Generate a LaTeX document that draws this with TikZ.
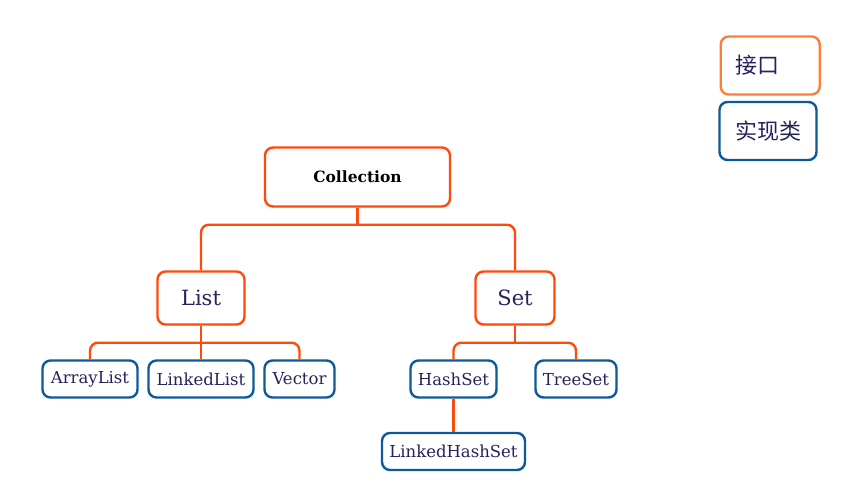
\documentclass[tikz,border=0pt]{standalone}
\usepackage{fontspec}
\setmainfont{DejaVu Serif}
\newfontfamily\cjk{Noto Sans CJK SC}
\usetikzlibrary{calc}
\definecolor{ifc}{HTML}{FF4A0E}
\definecolor{legor}{HTML}{FF7D3A}
\definecolor{implc}{HTML}{0C5A9A}
\definecolor{txt}{HTML}{24235C}
\tikzset{
  box/.style={draw, rounded corners=8pt, line width=2.4pt, inner sep=0pt, fill=white, text=txt},
  iface/.style={box, draw=ifc},
  impl/.style={box, draw=implc, font=\fontsize{16.5}{18}\selectfont},
  link/.style={draw=ifc, line width=2.4pt, rounded corners=8pt},
}
\begin{document}
\begin{tikzpicture}[x=1pt,y=-1pt]
\useasboundingbox (0,0) rectangle (854,484);
% legend
\node[box, draw=legor, minimum width=99pt, minimum height=58pt, font=\cjk\fontsize{22}{24}\selectfont, anchor=west, text width=84pt, align=left] (lega) at (719.5,65.5) {\hspace*{7pt}接口};
\node[box, draw=implc, minimum width=97pt, minimum height=58pt, font=\cjk\fontsize{22}{24}\selectfont] (legb) at (768,131) {实现类};
% tree
\node[iface, minimum width=185pt, minimum height=59pt, text=black, font=\bfseries\fontsize{15.5}{17}\selectfont] (coll) at (357.5,177) {Collection};
\node[iface, minimum width=87pt, minimum height=53pt, font=\fontsize{21}{23}\selectfont] (list) at (201,298) {List};
\node[iface, minimum width=79pt, minimum height=53pt, font=\fontsize{21}{23}\selectfont] (set) at (515,298) {Set};
\node[impl, minimum width=95pt, minimum height=37pt] (al) at (90,379) {ArrayList};
\node[impl, minimum width=105pt, minimum height=37pt] (ll) at (201,379) {LinkedList};
\node[impl, minimum width=70pt, minimum height=37pt] (vec) at (299.5,379) {Vector};
\node[impl, minimum width=86pt, minimum height=37pt] (hs) at (453.5,379) {HashSet};
\node[impl, minimum width=81pt, minimum height=37pt] (ts) at (576,379) {TreeSet};
\node[impl, minimum width=143pt, minimum height=37pt] (lhs) at (453.5,451.5) {LinkedHashSet};
% connectors
\coordinate (cb) at ($(coll.south)+(0,17)$);
\coordinate (lb) at ($(list.south)+(0,17)$);
\coordinate (sb) at ($(set.south)+(0,17)$);
\path[link] (coll.south) -- (cb);
\path[link] (list.north) |- (cb) -| (set.north);
\path[link] (list.south) -- (ll.north);
\path[link] (al.north) |- (lb) -| (vec.north);
\path[link] (set.south) -- (sb);
\path[link] (hs.north) |- (sb) -| (ts.north);
\path[link] (hs.south) -- (lhs.north);
\end{tikzpicture}
\end{document}
